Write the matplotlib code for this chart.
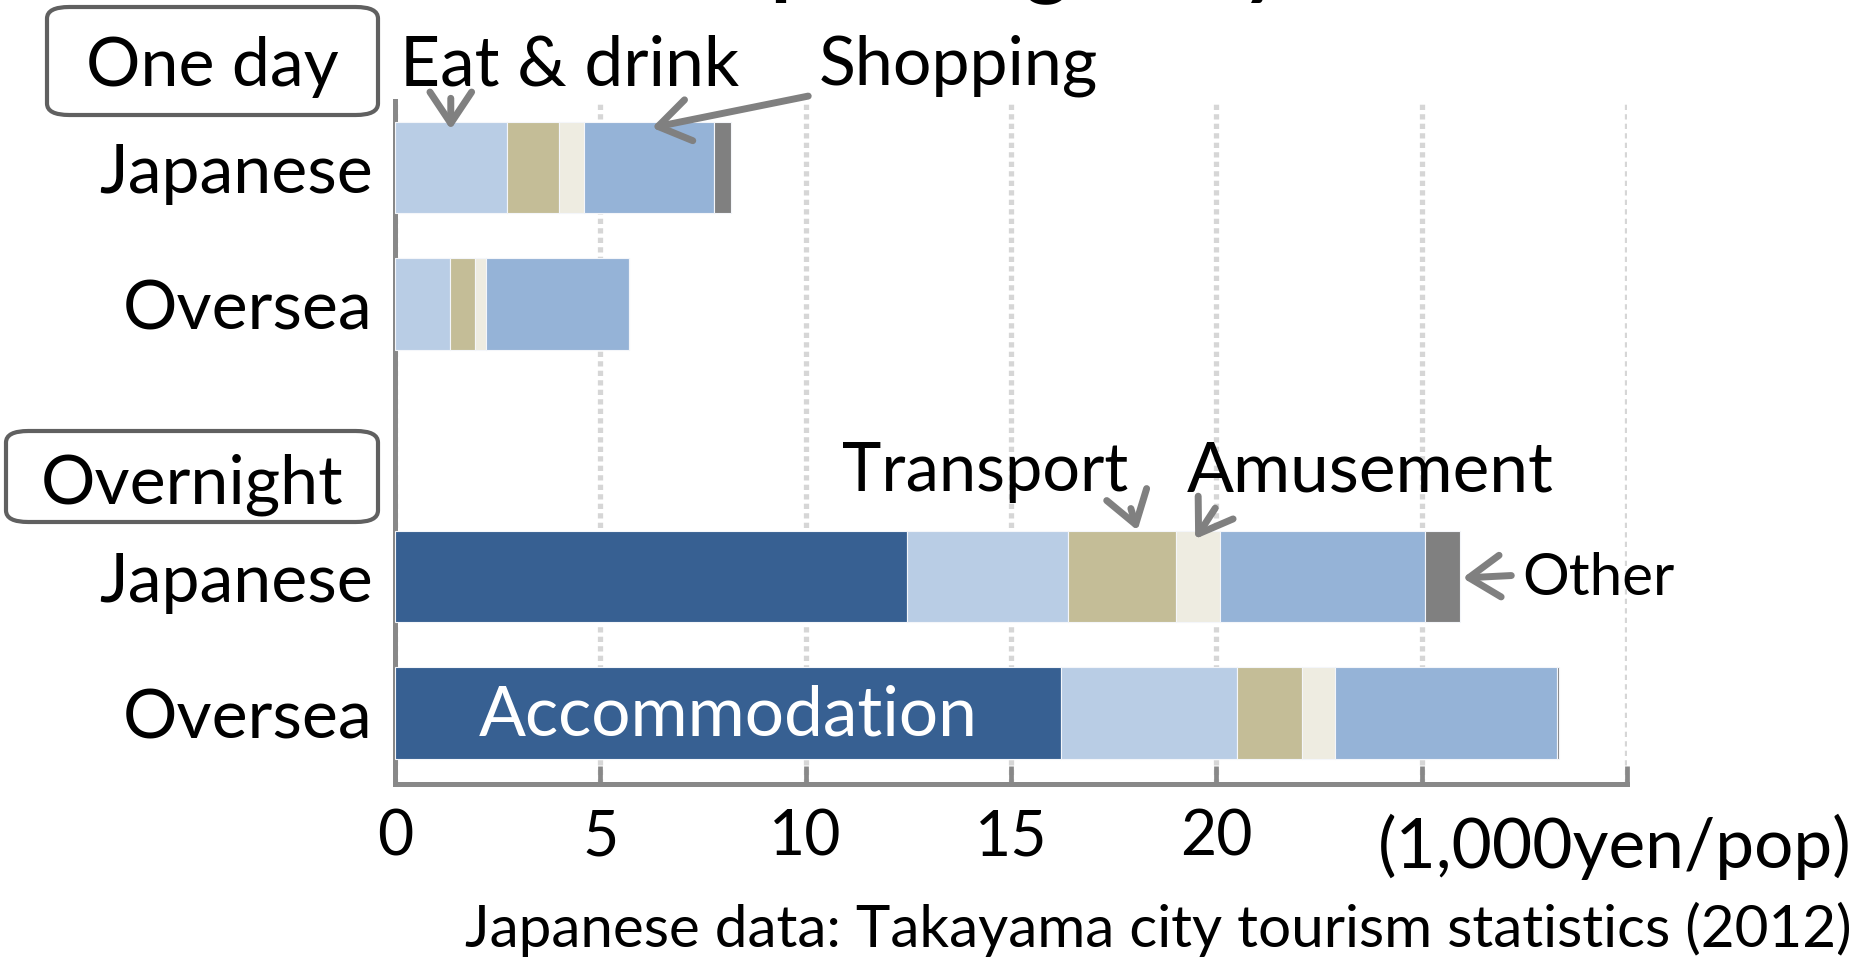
import matplotlib
matplotlib.use("Agg")
import matplotlib.pyplot as plt
from matplotlib.patches import FancyBboxPatch

plt.rcParams['font.family'] = ['Lato', 'DejaVu Sans']

# spending per visitor, 1,000 yen
rows = ['Japanese', 'Oversea', 'Japanese', 'Oversea']
ypos = [0, 1, 3, 4]
accommodation = [0.0, 0.0, 12.47, 16.21]
eat_drink = [2.72, 1.33, 3.92, 4.30]
transport = [1.27, 0.62, 2.63, 1.57]
amusement = [0.62, 0.27, 1.07, 0.80]
shopping = [3.16, 3.48, 4.99, 5.42]
other = [0.41, 0.0, 0.85, 0.04]

xticks = [0, 5, 10, 15, 20, 25, 30]
xticklabels = ['0', '5', '10', '15', '20', '', '']

series = [
    (accommodation, '#376092'),
    (eat_drink, '#b9cde5'),
    (transport, '#c4bd97'),
    (amusement, '#eeece1'),
    (shopping, '#95b3d7'),
    (other, '#808080'),
]

fig = plt.figure(figsize=(18.62, 9.59), dpi=100)
ax = fig.add_axes([0.2121, 0.1825, 0.6617, 0.7122])

left = [0.0] * len(rows)
starts = []
for vals, col in series:
    starts.append(list(left))
    ax.barh(ypos, vals, left=left, height=0.67, color=col,
            edgecolor='#f4f6fa', linewidth=0.8, zorder=3)
    left = [l + v for l, v in zip(left, vals)]

ax.set_xlim(0, 30)
ax.set_ylim(4.52, -0.49)
ax.set_xticks(xticks)
ax.set_xticklabels(xticklabels, fontsize=45)
ax.set_yticks(ypos)
ax.set_yticklabels(rows, fontsize=49)
ax.tick_params(axis='x', direction='in', length=13, width=3.4, color='#888888', pad=18)
ax.tick_params(axis='y', length=0, pad=16)
ax.xaxis.grid(True, color='#d6d6d6', linestyle=(0, (1, 0.8)), linewidth=3.8, zorder=0)
for s in ['top', 'right']:
    ax.spines[s].set_visible(False)
for s in ['left', 'bottom']:
    ax.spines[s].set_color('#888888')
    ax.spines[s].set_linewidth(3.6)

arrow = dict(arrowstyle='->,head_length=0.45,head_width=0.3', color='#808080', lw=5,
             mutation_scale=50, capstyle='round', joinstyle='round')

def note(text, tip, tail, txt, size=50, ha='center'):
    ax.annotate('', xy=tip, xytext=tail, arrowprops=arrow, annotation_clip=False, zorder=5)
    ax.text(txt[0], txt[1], text, fontsize=size, ha=ha, va='center', clip_on=False)

# one day, Japanese
note('Eat & drink', (starts[1][0] + eat_drink[0] / 2, -0.26), (starts[1][0] + eat_drink[0] / 2, -0.53), (4.26, -0.75))
note('Shopping', (starts[4][0] + shopping[0] / 2, -0.29), (10.13, -0.53), (13.71, -0.75), size=49)
# overnight, Japanese
note('Transport', (starts[2][2] + transport[2] * 0.65, 2.68), (17.9, 2.48), (14.37, 2.23), size=48)
note('Amusement', (starts[3][2] + amusement[2] * 0.4, 2.74), (20.01, 2.48), (23.74, 2.23))
note('Other', (left[2], 3.01), (27.25, 2.99), (27.44, 3.01), size=42, ha='left')

ax.text(accommodation[3] / 2, 4.02, 'Accommodation', color='white', fontsize=50,
        ha='center', va='center', zorder=6)

# group boxes
W, H = 1862, 959
for (x0, y0, x1, y1), dy, label in [((47, 7, 378, 115), 6, 'One day'),
                                     ((6, 431, 378, 522), 8, 'Overnight')]:
    box = FancyBboxPatch((x0 / W, 1 - y1 / H), (x1 - x0) / W, (y1 - y0) / H,
                         boxstyle='round,pad=0,rounding_size=0.012', transform=fig.transFigure,
                         facecolor='white', edgecolor='#606060', linewidth=3)
    fig.patches.append(box)
    fig.text((x0 + x1) / 2 / W, 1 - ((y0 + y1) / 2 + dy) / H, label, fontsize=49,
             ha='center', va='center')

fig.text(1852 / W, 1 - 847 / H, '(1,000yen/pop)', fontsize=50, ha='right', va='center')
fig.text(1852 / W, 1 - 929 / H, 'Japanese data: Takayama city tourism statistics (2012)',
         fontsize=42, ha='right', va='center')
# title, cut off at the top edge in the source
fig.text(0.54, 1.012, 'Spending a day', fontsize=60, fontweight='bold', ha='center', va='baseline')

fig.savefig('out.png', dpi=100)
